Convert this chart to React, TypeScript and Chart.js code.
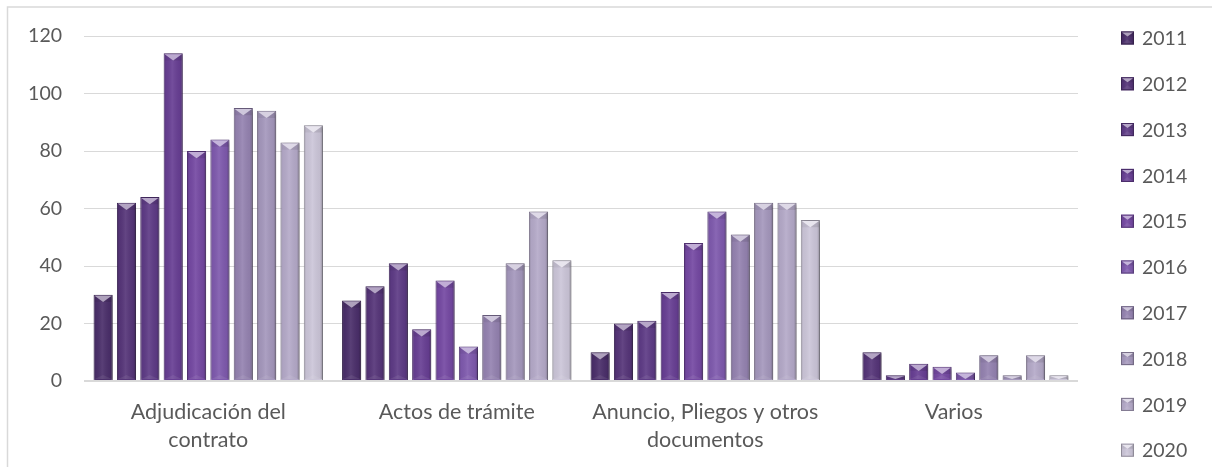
import React, { useEffect, useRef } from 'react';
import { Chart, registerables } from 'chart.js';

Chart.register(...registerables);

const categories: string[][] = [
  ['Adjudicación del', 'contrato'],
  ['Actos de trámite'],
  ['Anuncio, Pliegos y otros', 'documentos'],
  ['Varios'],
];

const years: string[] = ['2011', '2012', '2013', '2014', '2015', '2016', '2017', '2018', '2019', '2020'];

const v2011: number[] = [30, 28, 10, 0];
const v2012: number[] = [62, 33, 20, 10];
const v2013: number[] = [64, 41, 21, 2];
const v2014: number[] = [114, 18, 31, 6];
const v2015: number[] = [80, 35, 48, 5];
const v2016: number[] = [84, 12, 59, 3];
const v2017: number[] = [95, 23, 51, 9];
const v2018: number[] = [94, 41, 62, 2];
const v2019: number[] = [83, 59, 62, 9];
const v2020: number[] = [89, 42, 56, 2];

const seriesValues: number[][] = [v2011, v2012, v2013, v2014, v2015, v2016, v2017, v2018, v2019, v2020];

const yTickMin = 0;
const yTickMax = 120;
const yTickStep = 20;

const colors: string[] = [
  '#4B2F6B',
  '#563579',
  '#5E3B86',
  '#683F94',
  '#7549A3',
  '#7F5AAE',
  '#9583B1',
  '#A598BD',
  '#B5AAC9',
  '#CCC6D9',
];

const FONT = 'Lato, "Open Sans", sans-serif';
const TEXT_COLOR = '#595959';
const GRID_COLOR = '#D9D9D9';

function hexToRgb(hex: string): [number, number, number] {
  const h = hex.replace('#', '');
  return [parseInt(h.slice(0, 2), 16), parseInt(h.slice(2, 4), 16), parseInt(h.slice(4, 6), 16)];
}

function mix(hex: string, amt: number): string {
  const [r, g, b] = hexToRgb(hex);
  const t = amt >= 0 ? 255 : 0;
  const a = Math.abs(amt);
  const f = (c: number) => Math.round(c + (t - c) * a);
  return `rgb(${f(r)},${f(g)},${f(b)})`;
}

function drawBevelBar(
  ctx: CanvasRenderingContext2D,
  left: number,
  right: number,
  top: number,
  bottom: number,
  color: string,
) {
  const w = right - left;
  const h = bottom - top;
  if (h < 1 || w < 1) return;
  const cx = (left + right) / 2;
  const g = ctx.createLinearGradient(left, 0, right, 0);
  g.addColorStop(0, 'rgba(0,0,0,0.22)');
  g.addColorStop(0.12, 'rgba(0,0,0,0.04)');
  g.addColorStop(0.45, 'rgba(255,255,255,0.08)');
  g.addColorStop(0.85, 'rgba(0,0,0,0.05)');
  g.addColorStop(1, 'rgba(0,0,0,0.28)');
  ctx.fillStyle = g;
  ctx.fillRect(left + 1, top + 1, w - 2, h - 2);
  const bev = Math.min(w * 0.38, Math.max(1, h - 1), 8);
  ctx.beginPath();
  ctx.moveTo(left + 1, top + 1);
  ctx.lineTo(right - 1, top + 1);
  ctx.lineTo(cx, top + bev);
  ctx.closePath();
  ctx.fillStyle = mix(color, 0.55);
  ctx.fill();
  ctx.beginPath();
  ctx.moveTo(left + 1, top + 1);
  ctx.lineTo(cx, top + bev);
  ctx.lineTo(left + 1, top + bev);
  ctx.closePath();
  ctx.fillStyle = 'rgba(0,0,0,0.05)';
  ctx.fill();
  ctx.beginPath();
  ctx.moveTo(right - 1, top + 1);
  ctx.lineTo(cx, top + bev);
  ctx.lineTo(right - 1, top + bev);
  ctx.closePath();
  ctx.fillStyle = 'rgba(0,0,0,0.09)';
  ctx.fill();
  if (h > 12) {
    ctx.beginPath();
    ctx.moveTo(left + 1, bottom - 1);
    ctx.lineTo(right - 1, bottom - 1);
    ctx.lineTo(cx, bottom - Math.min(5, bev));
    ctx.closePath();
    ctx.fillStyle = 'rgba(255,255,255,0.07)';
    ctx.fill();
  }
}

const bevelPlugin = {
  id: 'bevelBars',
  beforeDatasetsDraw(chart: any) {
    const ctx = chart.ctx as CanvasRenderingContext2D;
    ctx.save();
    ctx.shadowColor = 'rgba(0,0,0,0.32)';
    ctx.shadowBlur = 3;
    ctx.shadowOffsetX = 2;
    ctx.shadowOffsetY = 1;
  },
  afterDatasetsDraw(chart: any) {
    const ctx = chart.ctx as CanvasRenderingContext2D;
    ctx.restore();
    ctx.save();
    chart.data.datasets.forEach((ds: any, di: number) => {
      const meta = chart.getDatasetMeta(di);
      meta.data.forEach((el: any) => {
        const { x, y, base, width } = el.getProps(['x', 'y', 'base', 'width'], true);
        drawBevelBar(ctx, x - width / 2, x + width / 2, Math.min(y, base), Math.max(y, base), colors[di]);
      });
    });
    ctx.restore();
  },
};

const legendPlugin = {
  id: 'sideLegend',
  afterDraw(chart: any) {
    const ctx = chart.ctx as CanvasRenderingContext2D;
    const area = chart.chartArea;
    const boxX = area.right + 43;
    const textX = boxX + 21;
    const firstY = 38;
    const step = 45.8;
    ctx.save();
    chart.data.datasets.forEach((ds: any, i: number) => {
      const cy = firstY + i * step;
      const s = 13;
      const bx = boxX;
      const by = cy - s / 2;
      ctx.fillStyle = colors[i];
      ctx.fillRect(bx, by, s, s);
      ctx.strokeStyle = mix(colors[i], -0.3);
      ctx.lineWidth = 1;
      ctx.strokeRect(bx + 0.5, by + 0.5, s - 1, s - 1);
      drawBevelBar(ctx, bx, bx + s, by, by + s, colors[i]);
      ctx.fillStyle = TEXT_COLOR;
      ctx.font = `19.5px ${FONT}`;
      ctx.textAlign = 'left';
      ctx.textBaseline = 'middle';
      ctx.fillText(ds.label, textX, cy + 1);
    });
    ctx.restore();
  },
};

const framePlugin = {
  id: 'frame',
  afterDraw(chart: any) {
    const ctx = chart.ctx as CanvasRenderingContext2D;
    ctx.save();
    ctx.strokeStyle = GRID_COLOR;
    ctx.lineWidth = 1.5;
    ctx.beginPath();
    ctx.moveTo(7.5, chart.height);
    ctx.lineTo(7.5, 7);
    ctx.lineTo(chart.width, 7);
    ctx.stroke();
    ctx.restore();
  },
};

export default function App() {
  const canvasRef = useRef<HTMLCanvasElement | null>(null);

  useEffect(() => {
    if (!canvasRef.current) return;
    const chart = new Chart(canvasRef.current, {
      type: 'bar',
      data: {
        labels: categories,
        datasets: years.map((yr, i) => ({
          label: yr,
          data: seriesValues[i],
          backgroundColor: colors[i],
          borderColor: mix(colors[i], -0.3),
          borderWidth: 1,
          categoryPercentage: 0.94,
          barPercentage: 0.82,
        })),
      },
      options: {
        animation: false,
        responsive: true,
        maintainAspectRatio: false,
        layout: { padding: { top: 36, right: 134, left: 0, bottom: 0 } },
        plugins: {
          legend: { display: false },
          tooltip: { enabled: false },
          title: { display: false },
        },
        scales: {
          x: {
            grid: { display: false, drawTicks: false },
            border: { display: false },
            ticks: {
              color: TEXT_COLOR,
              font: { family: FONT, size: 21.5, lineHeight: 28 / 21.5 },
              padding: 17,
              maxRotation: 0,
              autoSkip: false,
            },
            afterFit(scale: any) {
              scale.height = 86;
            },
          },
          y: {
            min: yTickMin,
            max: yTickMax,
            grid: {
              color: GRID_COLOR,
              lineWidth: (c: any) => (c.tick && c.tick.value === 0 ? 2 : 1),
              drawTicks: false,
            },
            border: { display: false },
            ticks: {
              stepSize: yTickStep,
              color: TEXT_COLOR,
              font: { family: FONT, size: 19.5 },
              padding: 22,
            },
            afterFit(scale: any) {
              scale.width = 84;
            },
          },
        },
      },
      plugins: [bevelPlugin, legendPlugin, framePlugin],
    });
    return () => chart.destroy();
  }, []);

  return (
    <div style={{ position: 'fixed', left: 0, top: 0, width: 1212, height: 467, background: '#ffffff' }}>
      <canvas ref={canvasRef} />
    </div>
  );
}
